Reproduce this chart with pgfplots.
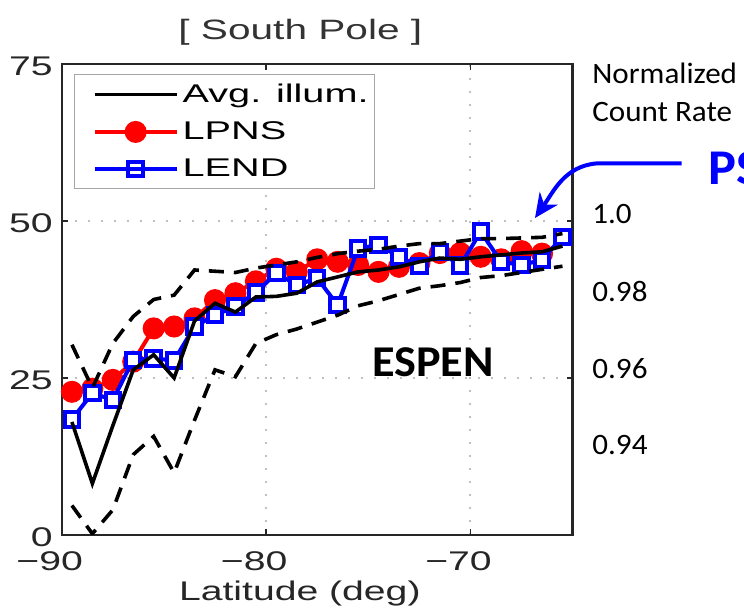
\documentclass[border=0pt]{standalone}
\usepackage{fontspec}
\usepackage{pgfplots}
\usepackage{pgfplotstable}
\pgfplotsset{compat=1.18}
\usetikzlibrary{arrows.meta}
\setmainfont{Liberation Sans}
\newfontfamily\matfont[FakeStretch=1.45]{Liberation Sans}
\newfontfamily\legfont[FakeStretch=1.55]{Liberation Sans}
\newfontfamily\slidefont[FakeStretch=1.05]{Carlito}
\definecolor{matblue}{RGB}{0,0,255}
\definecolor{matred}{RGB}{255,0,0}

% lat, average illumination, LPNS, LEND, lower / upper bound
\pgfplotstableread{
lat   avg   lpns  lend  lo    hi
-89.5 18.0  22.8  18.4  4.7   30.3
-88.5 8.2   23.3  22.6  0.2   23.4
-87.5 17.4  24.7  21.5  4.0   30.5
-86.5 26.3  27.6  27.9  12.8  34.8
-85.5 28.7  32.9  28.1  15.7  37.5
-84.5 25.0  33.2  27.8  9.9   38.2
-83.5 34.1  34.5  33.2  18.3  42.2
-82.5 36.9  37.4  35.0  26.3  42.0
-81.5 35.5  38.5  36.4  25.2  41.8
-80.5 37.9  40.4  38.6  30.5  42.5
-79.5 38.0  42.4  41.7  31.9  43.0
-78.5 38.5  41.9  39.8  32.8  43.5
-77.5 40.3  43.9  40.9  33.9  44.2
-76.5 41.1  43.5  36.6  35.0  44.8
-75.5 41.9  43.0  45.6  36.5  45.2
-74.5 42.2  41.9  46.2  37.3  45.5
-73.5 42.7  42.7  44.3  38.3  46.0
-72.5 43.5  43.3  42.8  39.3  46.4
-71.5 44.1  44.9  45.1  39.7  46.4
-70.5 43.9  44.9  42.9  40.2  46.8
-69.5 44.3  44.3  48.3  41.0  47.2
-68.5 44.6  43.9  43.5  41.3  47.2
-67.5 44.9  45.2  43.0  41.8  47.3
-66.5 45.1  44.8  43.8  42.3  47.4
-65.5 46.0  nan   47.5  42.8  48.0
}\southpole

\begin{document}
\begin{tikzpicture}
\useasboundingbox (0,0) rectangle (372bp,304bp);
\clip (0,0) rectangle (372bp,304bp);
\begin{axis}[
  at={(30.85bp,36.5bp)}, anchor=south west,
  scale only axis, width=255.5bp, height=235.5bp,
  xmin=-90, xmax=-65, ymin=0, ymax=75,
  xtick={-90,-80,-70}, xticklabels={−90,−80,−70},
  ytick={0,25,50,75}, yticklabels={0,25,50,75},
  tick align=inside, tick pos=both,
  major tick length=3bp,
  tick style={black!85, line width=0.8bp},
  axis line style={black!85, line width=1.2bp},
  grid=major,
  major grid style={gray!50, line width=1bp, dash pattern=on 1bp off 5.5bp},
  tick label style={font=\matfont\fontsize{13.5bp}{15bp}\selectfont, text=black!85},
  xticklabel style={xshift=-6bp, yshift=-5bp},
  yticklabel style={xshift=-1bp, yshift=-1.2bp},
  title={[ South Pole ]},
  title style={at={(axis description cs:0.467,1.051)}, anchor=base, yshift=-6pt,
    font=\matfont\fontsize{14bp}{16bp}\selectfont, text=black!80},
  xlabel={Latitude (deg)},
  xlabel style={at={(axis description cs:0.466,-0.140)}, anchor=base,
    font=\matfont\fontsize{13.5bp}{15bp}\selectfont, text=black!85},
  clip mode=individual,
  legend style={at={(0.024,0.979)}, anchor=north west,
    draw=gray!70, line width=0.7bp, fill=white,
    font=\legfont\fontsize{12.8bp}{14bp}\selectfont,
    inner xsep=1bp, inner ysep=2.5bp, row sep=4.2bp},
  legend cell align=left,
  legend image code/.code={\path (0bp,0bp);
    \draw[mark repeat=2,mark phase=2]
    plot coordinates {(8bp,0bp) (28.5bp,0bp) (49bp,0bp)};},
]
\addlegendimage{black, line width=1.7bp}
\addlegendentry{Avg. illum.}
\addlegendimage{matred, line width=2bp, mark=*, mark size=4.5bp}
\addlegendentry{LPNS}
\addlegendimage{matblue, line width=2bp, mark=square, mark size=3.6bp,
  mark options={fill=white, solid}}
\addlegendentry{LEND}

\addplot[matred, line width=2bp, mark=*, mark size=4.5bp, forget plot]
  table[x=lat, y=lpns] {\southpole};
\addplot[matblue, line width=2bp, mark=square*, mark size=3.6bp,
  mark options={fill=white}, forget plot]
  table[x=lat, y=lend] {\southpole};
\addplot[black, line width=1.8bp, forget plot]
  table[x=lat, y=avg] {\southpole};
\addplot[black, line width=1.8bp, dash pattern=on 7.5bp off 5bp, forget plot]
  table[x=lat, y=lo] {\southpole};
\addplot[black, line width=1.8bp, dash pattern=on 7.5bp off 5bp, forget plot]
  table[x=lat, y=hi] {\southpole};

\node[anchor=base west, font=\slidefont\bfseries\fontsize{22bp}{25bp}\selectfont]
  at (axis cs:-75.15,25.2) {ESPEN};
\end{axis}

\begin{scope}[font=\slidefont\fontsize{14.8bp}{17bp}\selectfont]
\node[anchor=base west, inner sep=0pt] at (296bp,262.3bp) {Normalized};
\node[anchor=base west, inner sep=0pt] at (296bp,243.2bp) {Count Rate};
\node[anchor=base west, inner sep=0pt] at (296bp,192.3bp) {1.0};
\node[anchor=base west, inner sep=0pt] at (296bp,153.2bp) {0.98};
\node[anchor=base west, inner sep=0pt] at (296bp,114.8bp) {0.96};
\node[anchor=base west, inner sep=0pt] at (296bp,76.5bp) {0.94};
\end{scope}
\node[anchor=base west, inner sep=0pt, text=matblue,
  font=\slidefont\bfseries\fontsize{25bp}{28bp}\selectfont] at (354bp,211.5bp) {PS};
\draw[matblue, line width=2bp, -{Stealth[length=12bp, width=11bp]}]
  (340.8bp,222.3bp) -- (298.3bp,222.3bp)
  to[out=185, in=55] (267.5bp,195bp);
\end{tikzpicture}
\end{document}
